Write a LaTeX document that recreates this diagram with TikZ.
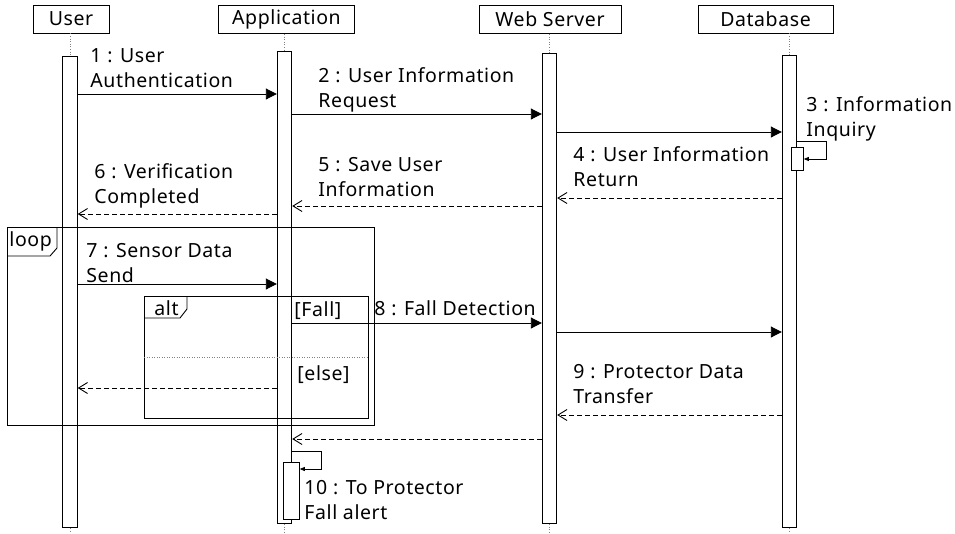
\documentclass[tikz,border=0pt]{standalone}
\usepackage{fontspec}
\setmainfont{Noto Sans}[LetterSpace=3]
\usetikzlibrary{arrows.meta}

\begin{document}
\begin{tikzpicture}[x=1pt,y=-1pt,line width=0.9pt,
  font=\fontsize{19.5}{25}\selectfont,
  head/.style={draw,minimum height=28pt,inner sep=0pt,fill=white},
  actbar/.style={draw,fill=white,minimum width=14.5pt,inner sep=0pt,anchor=north},
  life/.style={draw=gray,line width=0.6pt,dotted},
  msg/.style={-{Triangle[length=11pt,width=11pt]}},
  reply/.style={dashed,dash pattern=on 5pt off 3pt,-{Straight Barb[length=9pt,width=11pt]}},
  selfmsg/.style={line width=0.6pt,-{Triangle[length=5pt,width=4pt]}},
  lbl/.style={anchor=base west,inner sep=0pt,align=left},
  frame/.style={draw,line width=0.9pt},
  guard/.style={draw=gray,line width=0.5pt,dotted}]
\useasboundingbox (0,0) rectangle (955,533);

% participant heads
\node[head,minimum width=76pt]  (huser) at (71,19)    {User};
\node[head,minimum width=136pt] (happ)  at (286.5,19.5) {Application};
\node[head,minimum width=142pt] (hweb)  at (550,19.5) {Web Server};
\node[head,minimum width=135pt] (hdb)   at (765.5,19) {Database};

% activation bars
\node[actbar,minimum height=471pt] (ubar) at (70,56)    {};
\node[actbar,minimum height=472pt] (abar) at (284.5,51) {};
\node[actbar,minimum height=470pt] (wbar) at (549.5,53) {};
\node[actbar,minimum height=472pt] (dbar) at (789.5,55) {};

% lifelines
\draw[life] (huser.south -| ubar.north) -- (ubar.north);
\draw[life] (happ.south -| abar.north) -- (abar.north);
\draw[life] (hweb.south -| wbar.north) -- (wbar.north);
\draw[life] (hdb.south -| dbar.north) -- (dbar.north);
\draw[life] (ubar.south) -- (ubar.south |- 0,533);
\draw[life] (abar.south) -- (abar.south |- 0,533);
\draw[life] (wbar.south) -- (wbar.south |- 0,533);
\draw[life] (dbar.south) -- (dbar.south |- 0,533);

% nested activations for self calls
\node[draw,fill=white,minimum width=12pt,minimum height=23pt,inner sep=0pt,anchor=north west,line width=0.8pt] (dsub) at (791,147) {};
\node[draw,fill=white,minimum width=16pt,minimum height=57pt,inner sep=0pt,anchor=north west,line width=0.8pt] (asub) at (283,462) {};

% authentication exchange (two-line labels are placed by their last baseline)
\draw[msg] (ubar.east |- 0,94) -- (abar.west |- 0,94);
\node[lbl] (l1) at (90,87) {1 : User\\Authentication};
\draw[msg] (abar.east |- 0,114) -- (wbar.west |- 0,114);
\node[lbl] (l2) at (318,107) {2 : User Information\\Request};
\draw[msg] (wbar.east |- 0,132) -- (dbar.west |- 0,132);
\node[lbl] (l3) at (806,136) {3 : Information\\Inquiry};
\draw[selfmsg] (dbar.east |- 0,141) -- (826,141) -- (826,159) -- (dsub.east |- 0,159);
\draw[reply] (dbar.west |- 0,198) -- (wbar.east |- 0,198);
\node[lbl] (l4) at (573,186) {4 : User Information\\Return};
\draw[reply] (wbar.west |- 0,206) -- (abar.east |- 0,206);
\node[lbl] (l5) at (318,196) {5 : Save User\\Information};
\draw[reply] (abar.west |- 0,214) -- (ubar.east |- 0,214);
\node[lbl] (l6) at (94,203) {6 : Verification\\Completed};

% loop fragment
\draw[frame] (7,227) rectangle (374,425);
\draw[frame] (7,256) -- (50,256) -- (57,248) -- (57,227);
\node[lbl] (tloop) at (9,246) {loop};
\draw[msg] (ubar.east |- 0,284) -- (abar.west |- 0,284);
\node[lbl] (l7) at (86,282) {7 : Sensor Data\\Send};

% alt fragment
\draw[frame] (144,296) rectangle (368,418);
\draw[frame] (144,318) -- (180,318) -- (187,309) -- (187,296);
\node[lbl] (talt) at (154,315) {alt};
\draw[guard] (144,357) -- (368,357);
\node[lbl] (gfall) at (294,316) {[Fall]};
\node[lbl] (gelse) at (297,380) {[else]};
\draw[msg] (abar.east |- 0,323) -- (wbar.west |- 0,323);
\node[lbl] (l8) at (374,315) {8 : Fall Detection};
\draw[msg] (wbar.east |- 0,332) -- (dbar.west |- 0,332);
\draw[reply] (abar.west |- 0,388) -- (ubar.east |- 0,388);

% protector notification
\draw[reply] (dbar.west |- 0,415) -- (wbar.east |- 0,415);
\node[lbl] (l9) at (573,403) {9 : Protector Data\\Transfer};
\draw[reply] (wbar.west |- 0,439) -- (abar.east |- 0,439);
\draw[selfmsg] (abar.east |- 0,451) -- (321,451) -- (321,469) -- (asub.east |- 0,469);
\node[lbl] (l10) at (304,519) {10 : To Protector\\Fall alert};
\end{tikzpicture}
\end{document}
